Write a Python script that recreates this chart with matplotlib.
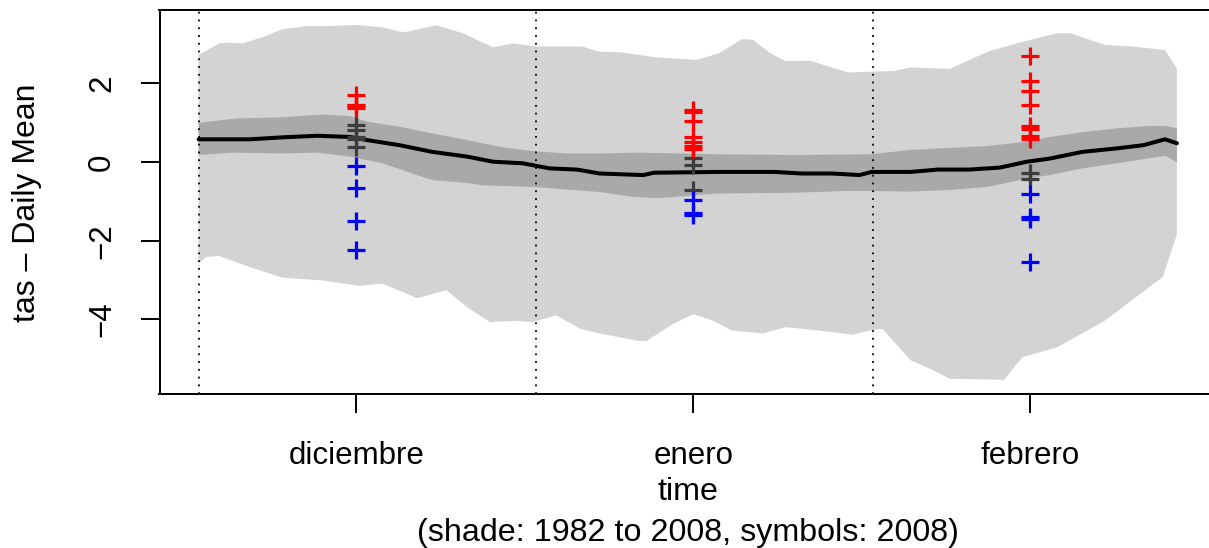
import matplotlib
matplotlib.use("Agg")
import matplotlib.pyplot as plt

# ---------------- data ----------------
months = ["diciembre", "enero", "febrero"]
month_mid_days = [14.5, 45.5, 76.5]
month_start_days = [0, 31, 62]

# outer (light) shade: upper envelope
light_up_days = [0, 1.9, 2.85, 4.05, 5.9, 7.7, 9.9, 12.1, 14.5, 16.9, 18.8, 21.9, 24.3, 25.9,
                 27.1, 28.9, 31.1, 35.3, 36.9, 39.0, 41.9, 45.8, 47.9, 50.0, 51.0, 52.6, 54.0,
                 56.2, 59.8, 64.0, 65.5, 69.1, 72.6, 75.5, 79.0, 80.2, 83.4, 86.0, 88.9, 90.0]
light_up_vals = [2.73, 3.02, 3.04, 3.02, 3.18, 3.38, 3.46, 3.46, 3.49, 3.43, 3.30, 3.48, 3.28, 3.07,
                 2.92, 3.02, 2.94, 2.94, 2.81, 2.79, 2.67, 2.60, 2.77, 3.13, 3.11, 2.77, 2.57,
                 2.58, 2.28, 2.32, 2.41, 2.37, 2.81, 3.04, 3.28, 3.28, 2.98, 2.94, 2.85, 2.39]

# outer (light) shade: lower envelope
light_lo_days = [0, 0.7, 1.9, 4.7, 7.7, 11.4, 14.8, 16.9, 20.1, 22.8, 24.7, 26.8, 29.3, 30.7,
                 32.9, 35.1, 36.9, 40.5, 41.2, 43.7, 45.5, 47.3, 49.0, 51.9, 54.0, 56.9, 60.1,
                 61.9, 62.9, 65.5, 67.3, 69.1, 74.1, 75.8, 79.0, 83.4, 88.7, 90.0]
light_lo_vals = [-2.58, -2.41, -2.39, -2.67, -2.94, -3.01, -3.15, -3.09, -3.46, -3.26, -3.69, -4.07,
                 -4.04, -4.07, -3.90, -4.24, -4.36, -4.55, -4.55, -4.11, -3.87, -4.03, -4.28, -4.36,
                 -4.20, -4.28, -4.39, -4.28, -4.24, -5.04, -5.26, -5.51, -5.54, -4.96, -4.71,
                 -4.03, -2.92, -1.84]

# inner (dark) shade: upper envelope
dark_up_days = [0, 3.5, 7.7, 9.6, 11.4, 13.9, 15.5, 18.5, 21.5, 24.7, 27.7, 30.7, 33.9, 36.9,
                40.5, 47.7, 54.8, 61.9, 65.5, 72.6, 76.2, 78.3, 81.3, 84.5, 87.5, 88.9, 90.0]
dark_up_vals = [1.00, 1.11, 1.14, 1.18, 1.21, 1.17, 1.03, 0.90, 0.73, 0.56, 0.39, 0.28, 0.22, 0.22,
                0.24, 0.20, 0.18, 0.20, 0.31, 0.41, 0.52, 0.64, 0.76, 0.86, 0.92, 0.92, 0.86]

# inner (dark) shade: lower envelope
dark_lo_days = [0, 3.1, 7.7, 10.9, 13.9, 16.9, 20.1, 21.5, 24.7, 26.1, 30.7, 33.9, 36.9, 39.8,
                42.2, 47.7, 54.8, 60.1, 65.5, 69.1, 72.6, 76.2, 78.3, 81.3, 84.5, 88.9, 90.0]
dark_lo_vals = [0.18, 0.24, 0.22, 0.24, 0.14, -0.03, -0.33, -0.46, -0.53, -0.59, -0.63, -0.70,
                -0.76, -0.88, -0.92, -0.80, -0.78, -0.73, -0.75, -0.71, -0.63, -0.42, -0.33,
                -0.16, -0.03, 0.16, 0.00]

# climatological mean line
mean_days = [0, 4.7, 7.7, 10.9, 13.9, 15.5, 18.5, 21.5, 24.7, 27.1, 29.8, 32.3, 34.8, 36.9,
             40.9, 41.9, 47.7, 53.0, 55.5, 58.3, 60.8, 61.9, 65.5, 68.0, 70.9, 73.7, 76.2,
             78.3, 81.3, 84.5, 86.9, 88.9, 90.0]
mean_vals = [0.58, 0.58, 0.63, 0.67, 0.64, 0.56, 0.43, 0.26, 0.14, 0.01, -0.03, -0.16, -0.19,
             -0.29, -0.33, -0.27, -0.25, -0.25, -0.29, -0.29, -0.33, -0.25, -0.25, -0.19, -0.19,
             -0.14, 0.01, 0.09, 0.26, 0.35, 0.43, 0.58, 0.48]

# symbols (2008) per month
red_vals = [[1.70, 1.45, 1.42, 1.38],
            [1.33, 1.28, 1.05, 0.63, 0.50, 0.42, 0.33],
            [2.71, 2.07, 1.82, 1.45, 0.92, 0.84, 0.66, 0.58]]
gray_vals = [[0.95, 0.82, 0.65, 0.60, 0.38],
             [0.10, -0.07, -0.71],
             [-0.27, -0.44]]
blue_vals = [[-0.09, -0.67, -1.50, -2.24],
             [-0.97, -1.30, -1.35],
             [-0.80, -1.40, -1.45, -2.54]]

ylabel = "tas \u2013 Daily Mean"
xlabel = "time"
subtitle = "(shade: 1982 to 2008, symbols: 2008)"

# ---------------- figure ----------------
plt.rcParams['font.family'] = ['Liberation Sans', 'DejaVu Sans']
W, H = 1209, 548
fig = plt.figure(figsize=(W / 100, H / 100), dpi=100)
ax_left, ax_right, ax_top, ax_bot = 159.5, 1216, 10, 394
ax = fig.add_axes([ax_left / W, 1 - ax_bot / H, (ax_right - ax_left) / W, (ax_bot - ax_top) / H])

ax.set_xlim(-3.6, 93.6)
ax.set_ylim(-5.9, 3.87)

poly_x = light_up_days + light_lo_days[::-1]
poly_y = light_up_vals + light_lo_vals[::-1]
ax.fill(poly_x, poly_y, color='#D3D3D3', lw=0, zorder=1)
dpoly_x = dark_up_days + dark_lo_days[::-1]
dpoly_y = dark_up_vals + dark_lo_vals[::-1]
ax.fill(dpoly_x, dpoly_y, color='#A9A9A9', lw=0, zorder=2)

ax.plot(mean_days, mean_vals, color='black', lw=2.9, solid_joinstyle='round',
        solid_capstyle='round', zorder=3)

for d in month_start_days:
    ax.axvline(d, color='black', lw=1.3, linestyle=(0, (1, 3.3)), zorder=4)

ms, mew = 12.5, 2.3
for i, d in enumerate(month_mid_days):
    ax.plot([d] * len(gray_vals[i]), gray_vals[i], linestyle='none', marker='+',
            ms=ms, mew=mew, color='#3C3C3C', zorder=5)
    ax.plot([d] * len(red_vals[i]), red_vals[i], linestyle='none', marker='+',
            ms=ms, mew=mew, color='#FF0000', zorder=5)
    ax.plot([d] * len(blue_vals[i]), blue_vals[i], linestyle='none', marker='+',
            ms=ms, mew=mew, color='#0000FF', zorder=5)

for s in ax.spines.values():
    s.set_linewidth(1.4)
    s.set_clip_on(False)

ax.set_xticks(month_mid_days)
ax.set_xticklabels(months)
ax.set_yticks([-4, -2, 0, 2])
ax.set_yticklabels(["\u22124", "\u22122", "0", "2"], rotation=90, va='center')
ax.tick_params(axis='both', direction='out', length=13.5, width=1.4, labelsize=22.5,
               colors='black')
ax.tick_params(axis='x', pad=20)
ax.tick_params(axis='y', pad=17)

cx = ((ax_left + ax_right) / 2) / W
fig.text(cx, 1 - 492 / H, xlabel, ha='center', va='center', fontsize=23.2)
fig.text(cx, 1 - 533 / H, subtitle, ha='center', va='center', fontsize=23.2)
fig.text(27 / W, 1 - 203 / H, ylabel, ha='center', va='center', rotation=90, fontsize=23.0)

fig.savefig("out.png", dpi=100)
